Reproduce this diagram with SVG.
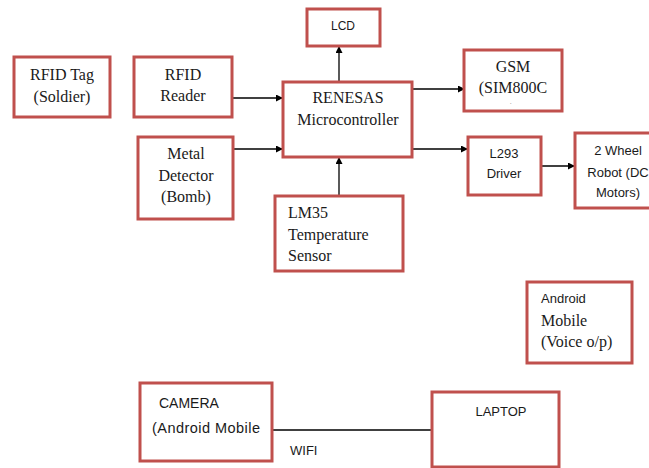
<svg xmlns="http://www.w3.org/2000/svg" width="649" height="468" viewBox="0 0 649 468">
<style>
  .box { fill: #ffffff; stroke: #C0504D; stroke-width: 3; }
  .serif { font-family: "Liberation Serif", "Times New Roman", serif; font-size: 16px; fill: #1a1a1a; }
  .sans { font-family: "Liberation Sans", Arial, sans-serif; font-size: 13px; fill: #1a1a1a; }
  .mid { text-anchor: middle; }
  .conn { stroke: #000000; stroke-width: 1.3; fill: none; }
</style>
<defs>
  <marker id="arrow" viewBox="0 0 10 10" refX="10" refY="5" markerWidth="7" markerHeight="7" markerUnits="userSpaceOnUse" orient="auto">
    <path d="M0,0 L10,5 L0,10 z" fill="#000000"/>
  </marker>
</defs>
<rect width="649" height="468" fill="#ffffff"/>

<g id="connectors">
  <line class="conn" x1="232" y1="98" x2="283" y2="98" marker-end="url(#arrow)"/>
  <line class="conn" x1="233" y1="149" x2="283" y2="149" marker-end="url(#arrow)"/>
  <line class="conn" x1="339" y1="82" x2="339" y2="46" marker-end="url(#arrow)"/>
  <line class="conn" x1="412" y1="89" x2="465" y2="89" marker-end="url(#arrow)"/>
  <line class="conn" x1="412" y1="149" x2="468" y2="149" marker-end="url(#arrow)"/>
  <line class="conn" x1="541" y1="166" x2="575" y2="166" marker-end="url(#arrow)"/>
  <line class="conn" x1="339" y1="196" x2="339" y2="157" marker-end="url(#arrow)"/>
  <line class="conn" x1="272" y1="430" x2="432" y2="430"/>
  <text class="sans" x="290" y="455">WIFI</text>
</g>

<g id="rfid-tag">
  <rect class="box" x="14" y="57" width="96" height="60"/>
  <text class="serif mid" x="62" y="80">RFID Tag</text>
  <text class="serif mid" x="62" y="102">(Soldier)</text>
</g>

<g id="rfid-reader">
  <rect class="box" x="134" y="57" width="98" height="60"/>
  <text class="serif mid" x="183" y="80">RFID</text>
  <text class="serif mid" x="183" y="101">Reader</text>
</g>

<g id="metal-detector">
  <rect class="box" x="138" y="137" width="95" height="82"/>
  <text class="serif mid" x="186" y="159">Metal</text>
  <text class="serif mid" x="186" y="181">Detector</text>
  <text class="serif mid" x="186" y="202">(Bomb)</text>
</g>

<g id="renesas">
  <rect class="box" x="283" y="82" width="129" height="75"/>
  <text class="serif mid" x="348" y="103">RENESAS</text>
  <text class="serif mid" x="348" y="125">Microcontroller</text>
</g>

<g id="lcd">
  <rect class="box" x="307" y="9" width="73" height="37"/>
  <text class="sans mid" x="343" y="30" style="font-size:12px">LCD</text>
</g>

<g id="gsm">
  <rect class="box" x="464" y="50" width="98" height="61"/>
  <text class="serif mid" x="513" y="72">GSM</text>
  <text class="serif mid" x="513" y="93">(SIM800C</text>
  <text class="serif" x="510" y="104" style="font-size:6px;fill:#777">.</text>
</g>

<g id="l293">
  <rect class="box" x="468" y="137" width="73" height="58"/>
  <text class="sans mid" x="504" y="158">L293</text>
  <text class="sans mid" x="504" y="178">Driver</text>
</g>

<g id="robot">
  <rect class="box" x="575" y="133" width="78" height="75"/>
  <text class="sans mid" x="618" y="155">2 Wheel</text>
  <text class="sans mid" x="618" y="177">Robot (DC</text>
  <text class="sans mid" x="618" y="197">Motors)</text>
</g>

<g id="lm35">
  <rect class="box" x="275" y="196" width="128" height="75"/>
  <text class="serif" x="288" y="218">LM35</text>
  <text class="serif" x="288" y="240">Temperature</text>
  <text class="serif" x="288" y="261">Sensor</text>
</g>

<g id="android">
  <rect class="box" x="527" y="282" width="105" height="81"/>
  <text class="sans" x="541" y="303">Android</text>
  <text class="serif" x="541" y="326">Mobile</text>
  <text class="serif" x="541" y="347">(Voice o/p)</text>
</g>

<g id="camera">
  <rect class="box" x="140" y="383" width="132" height="78"/>
  <text class="sans" x="159" y="408" style="font-size:14px">CAMERA</text>
  <text class="sans" x="152" y="433" style="font-size:14.5px" textLength="108" lengthAdjust="spacing">(Android Mobile</text>
</g>

<g id="laptop">
  <rect class="box" x="432" y="392" width="127" height="75"/>
  <text class="sans mid" x="501" y="416">LAPTOP</text>
</g>
</svg>
